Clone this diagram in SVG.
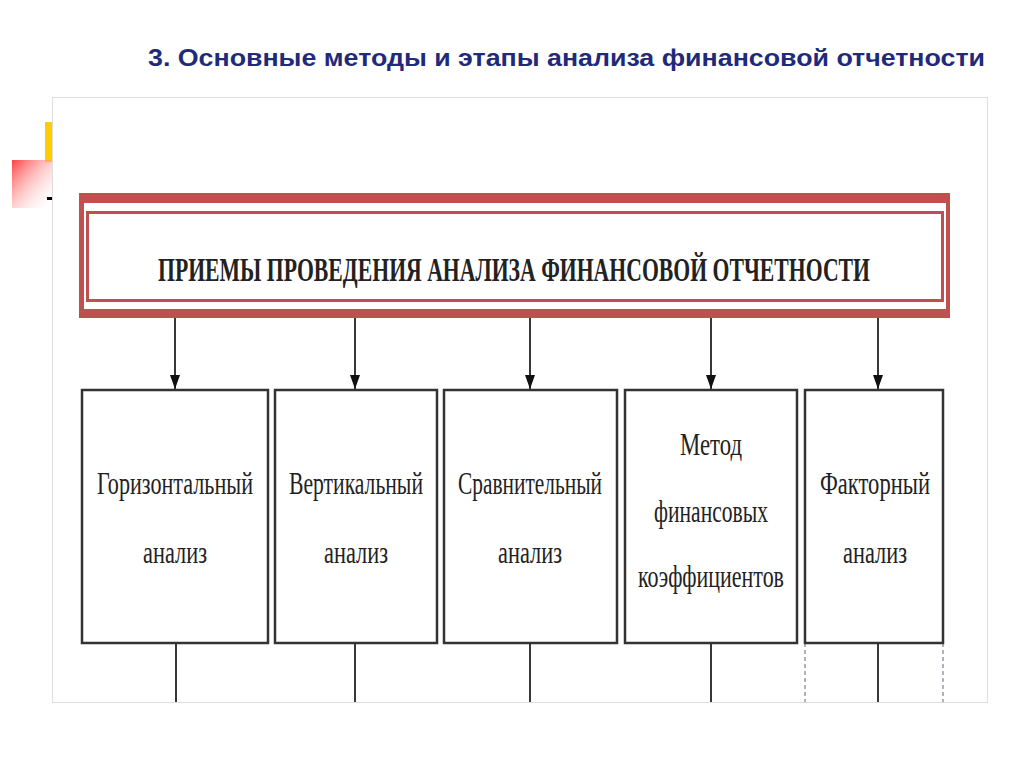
<svg xmlns="http://www.w3.org/2000/svg" width="1024" height="767" viewBox="0 0 1024 767">
<defs>
<style>
.t{font-family:"Liberation Serif",serif;font-size:32px;fill:#222;text-anchor:middle}
.b{fill:#fff;stroke:#333;stroke-width:2.5}
.c{stroke:#222;stroke-width:1.8;fill:none}
</style>
<marker id="a" markerWidth="14" markerHeight="10" refX="14" refY="5" orient="auto" markerUnits="userSpaceOnUse"><path d="M0,0 L14,5 L0,10 Z" fill="#111"/></marker>
<linearGradient id="g" x1="0" y1="0" x2="1" y2="1"><stop offset="0" stop-color="#ff4040"/><stop offset="1" stop-color="#fff" stop-opacity="0"/></linearGradient>
</defs>
<rect width="1024" height="767" fill="#fff"/>
<text x="148" y="66" textLength="837" lengthAdjust="spacingAndGlyphs" style="font-family:'Liberation Sans',sans-serif;font-size:23px;font-weight:bold;fill:#1f2a7a">3. Основные методы и этапы анализа финансовой отчетности</text>
<rect x="45" y="122" width="8" height="40" fill="#ffcc00"/>
<rect x="12" y="160" width="42" height="48" fill="url(#g)"/>
<rect x="47" y="197" width="5" height="3" fill="#000"/>
<rect x="52.5" y="97.5" width="935" height="605" fill="#fff" stroke="#ddd"/>
<g id="header">
<rect x="79" y="193" width="871" height="125" fill="#c0504d"/>
<rect x="84" y="203" width="862" height="106" fill="#fff"/>
<rect x="87.5" y="212.5" width="855" height="88" fill="#fff" stroke="#c0504d" stroke-width="3"/>
<text x="514" y="281" class="t" style="font-weight:bold;font-size:34px" textLength="712" lengthAdjust="spacingAndGlyphs">ПРИЕМЫ ПРОВЕДЕНИЯ АНАЛИЗА ФИНАНСОВОЙ ОТЧЕТНОСТИ</text>
</g>
<g id="connectors">
<line class="c" x1="175" y1="318" x2="175" y2="389" marker-end="url(#a)"/>
<line class="c" x1="355" y1="318" x2="355" y2="389" marker-end="url(#a)"/>
<line class="c" x1="530" y1="318" x2="530" y2="389" marker-end="url(#a)"/>
<line class="c" x1="711" y1="318" x2="711" y2="389" marker-end="url(#a)"/>
<line class="c" x1="878" y1="318" x2="878" y2="389" marker-end="url(#a)"/>
<line class="c" x1="176" y1="643" x2="176" y2="702"/>
<line class="c" x1="355" y1="643" x2="355" y2="702"/>
<line class="c" x1="530" y1="643" x2="530" y2="702"/>
<line class="c" x1="711" y1="643" x2="711" y2="702"/>
<line class="c" x1="878" y1="643" x2="878" y2="702"/>
<line x1="805" y1="643" x2="805" y2="702" stroke="#99a" stroke-width="1.5" stroke-dasharray="4 3"/>
<line x1="943" y1="643" x2="943" y2="702" stroke="#99a" stroke-width="1.5" stroke-dasharray="4 3"/>
</g>
<g id="n1"><rect class="b" x="82" y="390" width="186" height="253"/>
<text class="t" x="175" y="494" textLength="156" lengthAdjust="spacingAndGlyphs">Горизонтальный</text>
<text class="t" x="175" y="563" textLength="64" lengthAdjust="spacingAndGlyphs">анализ</text></g>
<g id="n2"><rect class="b" x="275" y="390" width="162" height="253"/>
<text class="t" x="356" y="494" textLength="134" lengthAdjust="spacingAndGlyphs">Вертикальный</text>
<text class="t" x="356" y="563" textLength="64" lengthAdjust="spacingAndGlyphs">анализ</text></g>
<g id="n3"><rect class="b" x="444" y="390" width="173" height="253"/>
<text class="t" x="530" y="494" textLength="144" lengthAdjust="spacingAndGlyphs">Сравнительный</text>
<text class="t" x="530" y="563" textLength="64" lengthAdjust="spacingAndGlyphs">анализ</text></g>
<g id="n4"><rect class="b" x="625" y="390" width="172" height="253"/>
<text class="t" x="711" y="455" textLength="62" lengthAdjust="spacingAndGlyphs">Метод</text>
<text class="t" x="711" y="522" textLength="114" lengthAdjust="spacingAndGlyphs">финансовых</text>
<text class="t" x="711" y="587" textLength="146" lengthAdjust="spacingAndGlyphs">коэффициентов</text></g>
<g id="n5"><rect class="b" x="805" y="390" width="138" height="253"/>
<text class="t" x="875" y="494" textLength="110" lengthAdjust="spacingAndGlyphs">Факторный</text>
<text class="t" x="875" y="563" textLength="64" lengthAdjust="spacingAndGlyphs">анализ</text></g>
</svg>
